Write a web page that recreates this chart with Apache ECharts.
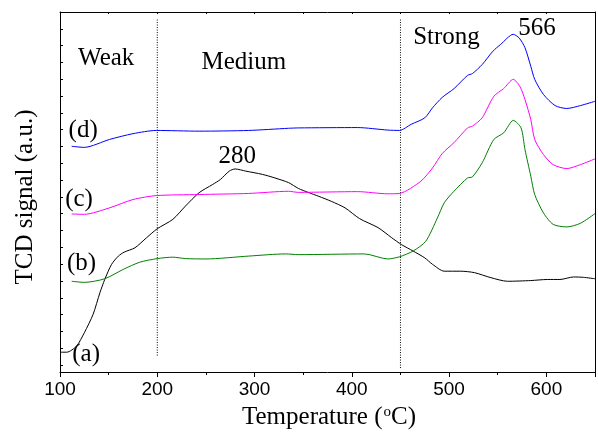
<!DOCTYPE html>
<html>
<head>
<meta charset="utf-8">
<script src="https://cdn.jsdelivr.net/npm/echarts@6/dist/echarts.min.js"></script>
<style>
html,body{margin:0;padding:0;background:#fff;}
#chart{width:598px;height:433px;}
</style>
</head>
<body>
<div id="chart"></div>
<script>
// x ticks (temperature, °C)
const xTicks = [100, 200, 300, 400, 500, 600];
// TCD signal curves, [temperature °C, signal a.u.]
const curveA = [[100,5.5],[107,5.5],[117,7.2],[125,10.9],[134,16.0],[141,22.0],[146,25.7],[153,29.9],[160,32.2],[166,33.3],[177,34.5],[189,37.3],[200,39.8],[216,42.4],[229,46.1],[243,49.8],[257,52.1],[265,53.5],[274,55.8],[280,56.4],[291,55.8],[308,54.9],[321,53.9],[335,52.6],[345,51.0],[355,49.9],[366,48.8],[379,47.4],[393,45.6],[408,42.6],[427,40.1],[441,37.3],[451,35.4],[463,33.6],[475,31.7],[483,29.9],[495,28.0],[512,28.0],[526,27.6],[543,26.2],[560,25.2],[584,25.4],[601,25.7],[614,25.7],[628,26.4],[638,26.3],[650,25.9]];
const curveB = [[112,25.2],[125,24.9],[146,25.9],[165,28.5],[182,30.5],[200,31.5],[216,31.9],[229,31.5],[250,31.4],[294,32.2],[332,32.8],[345,32.6],[413,32.8],[437,31.4],[449,32.0],[463,33.6],[476,36.3],[488,42.8],[495,47.0],[505,50.2],[519,53.9],[524,54.2],[534,58.1],[546,64.6],[556,66.4],[566,69.9],[574,67.8],[578,61.8],[584,54.4],[588,49.3],[597,44.2],[607,41.0],[621,40.3],[635,41.3],[650,44.0]];
const curveC = [[112,43.9],[125,43.8],[151,45.6],[175,47.9],[199,49.0],[243,49.3],[294,49.6],[335,50.2],[345,49.9],[406,50.1],[437,49.5],[449,49.6],[471,53.0],[483,56.7],[493,60.7],[505,63.7],[519,67.8],[524,68.3],[534,70.6],[546,76.6],[556,78.7],[566,81.3],[573,79.2],[578,75.7],[584,70.1],[588,64.6],[597,60.4],[607,57.6],[621,56.5],[635,57.6],[650,59.2]];
const curveD = [[112,62.7],[125,62.4],[151,64.6],[175,66.2],[199,67.1],[243,66.9],[294,67.1],[335,67.7],[345,67.8],[406,67.9],[437,67.2],[449,67.1],[461,68.8],[475,70.6],[483,73.4],[493,76.3],[505,78.7],[519,82.4],[524,82.9],[534,85.4],[545,89.1],[553,91.0],[566,93.8],[572,92.8],[578,90.1],[584,84.9],[588,81.3],[597,77.1],[609,74.0],[621,73.2],[635,74.0],[650,75.2]];
// region boundaries (dotted lines)
const boundary200 = [[200,97.9],[200,4.3]];
const boundary450 = [[450,97.9],[450,0.7]];
// text annotations [temperature, signal, text]
const annotations = [
  [147.5, 87.1, 'Weak'],
  [289, 86.0, 'Medium'],
  [497.3, 92.9, 'Strong'],
  [590.5, 95.3, '566'],
  [282.3, 59.9, '280'],
  [123.8, 67.1, '(d)'],
  [119.6, 47.9, '(c)'],
  [122.2, 30.1, '(b)'],
  [126.9, 4.9, '(a)']
];

const serif = 'Liberation Serif, Times New Roman, serif';
const sans = 'Liberation Sans, Arial, sans-serif';

const chart = echarts.init(document.getElementById('chart'), null, {renderer:'canvas'});

function curve(data, color) {
  return {type:'line', xAxisIndex:0, yAxisIndex:0, data:data, showSymbol:false, smooth:0.25,
    lineStyle:{color:color, width:1}, itemStyle:{color:color}, silent:true, z:3};
}
function dotted(data) {
  return {type:'line', xAxisIndex:0, yAxisIndex:0, data:data, showSymbol:false,
    lineStyle:{color:'#000', width:1, type:[1,1.5]}, silent:true, z:2};
}

const titles = [
  {type:'text', x:25, y:197, rotation:Math.PI/2,
    style:{text:'TCD signal (a.u.)', font:'25px ' + serif, fill:'#000', align:'center', verticalAlign:'middle'}},
  {type:'text', x:329, y:417,
    style:{text:'Temperature ({s|o}C)', font:'25px ' + serif, fill:'#000', align:'center', verticalAlign:'middle',
      rich:{s:{fontSize:15, fontFamily:serif, verticalAlign:'top', lineHeight:25, padding:[0,0,0,1]}}}}
];

chart.setOption({
  animation:false,
  backgroundColor:'#fff',
  grid:[
    {left:60, right:1, top:12, bottom:61},
    {left:60, right:1, top:12, bottom:68}
  ],
  xAxis:[
    {type:'value', gridIndex:0, min:100, max:650, interval:100, position:'bottom',
      axisLine:{show:true, onZero:false, lineStyle:{color:'#000', width:1}},
      axisTick:{show:true, inside:false, length:5, lineStyle:{color:'#000'}},
      minorTick:{show:true, splitNumber:2, length:3, lineStyle:{color:'#000'}},
      axisLabel:{show:true, fontFamily:sans, fontSize:19, color:'#000', margin:8,
        formatter:function(v){ return xTicks.indexOf(v) >= 0 ? String(v) : ''; }},
      splitLine:{show:false}},
    {type:'value', gridIndex:0, min:100, max:650, interval:50, position:'top',
      axisLine:{show:true, onZero:false, lineStyle:{color:'#000', width:1}},
      axisTick:{show:true, inside:true, length:2, lineStyle:{color:'#000'}},
      axisLabel:{show:false}, splitLine:{show:false}},
    {type:'value', gridIndex:1, min:100, max:650, show:false}
  ],
  yAxis:[
    {type:'value', gridIndex:0, min:0, max:100, position:'left',
      axisLine:{show:true, onZero:false, lineStyle:{color:'#000', width:1}},
      axisTick:{show:false}, axisLabel:{show:false}, splitLine:{show:false}},
    {type:'value', gridIndex:0, min:0, max:100, position:'right',
      axisLine:{show:true, onZero:false, lineStyle:{color:'#000', width:1}},
      axisTick:{show:false}, axisLabel:{show:false}, splitLine:{show:false}},
    {type:'value', gridIndex:1, min:0, max:21, interval:1, position:'left',
      axisLine:{show:false},
      axisTick:{show:true, inside:true, length:3, lineStyle:{color:'#000'}},
      axisLabel:{show:false}, splitLine:{show:false}}
  ],
  series:[
    dotted(boundary200),
    dotted(boundary450),
    curve(curveA, '#000000'),
    curve(curveB, '#008000'),
    curve(curveC, '#ff00ff'),
    curve(curveD, '#0000ff')
  ],
  graphic:titles
});

// place annotation texts at their data positions through the axes
const annoGraphics = annotations.map(a => {
  const p = chart.convertToPixel({xAxisIndex:0, yAxisIndex:0}, [a[0], a[1]]);
  return {type:'text', x:p[0], y:p[1], z:10,
    style:{text:a[2], font:'25px ' + serif, fill:'#000', align:'center', verticalAlign:'middle'}};
});
chart.setOption({graphic:titles.concat(annoGraphics)});
</script>
</body>
</html>
